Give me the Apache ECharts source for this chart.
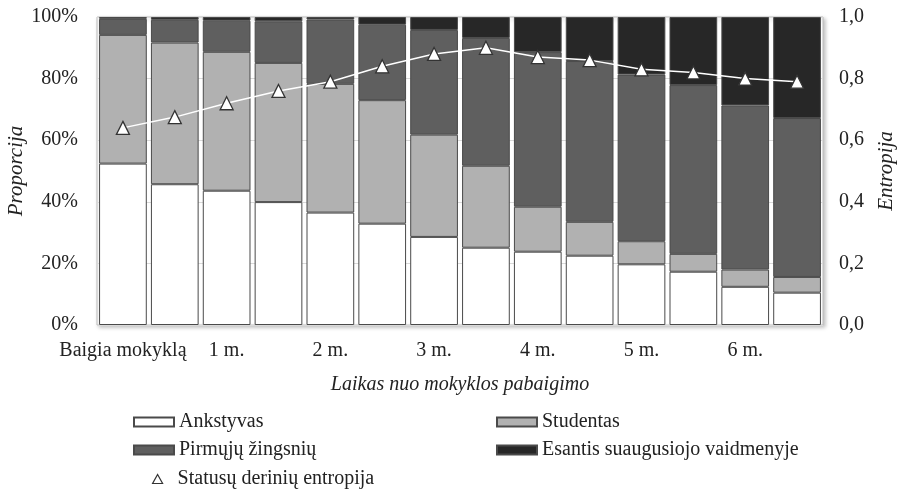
<!DOCTYPE html>
<html><head><meta charset="utf-8">
<script src="https://cdn.jsdelivr.net/npm/echarts@6/dist/echarts.min.js"></script>
<style>html,body{margin:0;padding:0;background:#fff}#c{width:902px;height:491px}</style>
</head><body><div id="c"></div>
<script>
const categories = ['Baigia mokyklą','0,5 m.','1 m.','1,5 m.','2 m.','2,5 m.','3 m.','3,5 m.','4 m.','4,5 m.','5 m.','5,5 m.','6 m.','6,5 m.'];
const shownLabels = ['Baigia mokyklą','','1 m.','','2 m.','','3 m.','','4 m.','','5 m.','','6 m.',''];
const ankstyvas = [52.4,45.7,43.6,39.9,36.5,32.9,28.6,25.1,23.8,22.5,19.7,17.3,12.4,10.5];
const studentas = [41.8,46.0,45.1,45.2,41.8,40.1,33.2,26.6,14.6,11.0,7.5,5.8,5.6,5.1];
const pirmuju = [5.2,7.4,10.1,13.5,20.9,24.5,34.0,41.5,50.2,52.2,54.1,54.8,53.3,51.6];
const esantis = [0.6,0.9,1.2,1.4,0.8,2.5,4.2,6.8,11.4,14.3,18.7,22.1,28.7,32.8];
const entropija = [0.64,0.675,0.72,0.76,0.79,0.84,0.88,0.90,0.87,0.86,0.83,0.82,0.80,0.79];
const leftTicks = [0,20,40,60,80,100];
const rightTicks = [0,0.2,0.4,0.6,0.8,1.0];

const font = 'Liberation Serif';
const chart = echarts.init(document.getElementById('c'));
function bar(name, data, color){
  return {name, type:'bar', stack:'s', data, barCategoryGap:'8%',
    itemStyle:{color, borderColor:'#4a4a4a', borderWidth:1}};
}
const legendText = {fontFamily:font, fontSize:20, color:'#222'};
chart.setOption({
  animation:false,
  grid:{left:97, right:79, top:17, bottom:166, outerBoundsMode:'none', containLabel:false,
        show:true, borderColor:'#bdbdbd', borderWidth:1,
        backgroundColor:'#fff', shadowColor:'rgba(0,0,0,0.25)', shadowBlur:4, shadowOffsetX:2, shadowOffsetY:2},
  legend:[
    {left:128, top:407, orient:'vertical', itemGap:8, itemWidth:40, itemHeight:9, icon:'rect', textStyle:legendText,
     data:['Ankstyvas','Pirmųjų žingsnių']},
    {left:491, top:407, orient:'vertical', itemGap:8, itemWidth:40, itemHeight:9, icon:'rect', textStyle:legendText,
     data:['Studentas','Esantis suaugusiojo vaidmenyje']},
    {left:147, top:464, itemWidth:10, itemHeight:9, textStyle:Object.assign({padding:[0,0,0,10]}, legendText),
     data:[{name:'Statusų derinių entropija', icon:'triangle', itemStyle:{color:'#fff', borderColor:'#333', borderWidth:1.2}}]}
  ],
  xAxis:{type:'category', data:categories,
    axisLine:{show:false}, axisTick:{show:false},
    axisLabel:{interval:0, margin:16, fontFamily:font, fontSize:20, color:'#222',
      formatter:(v,i)=>shownLabels[i]},
    name:'Laikas nuo mokyklos pabaigimo', nameLocation:'middle', nameGap:50,
    nameTextStyle:{fontFamily:font, fontStyle:'italic', fontSize:20, color:'#222'}},
  yAxis:[
    {type:'value', min:0, max:100, interval:20,
     axisLine:{show:false}, axisTick:{show:false},
     axisLabel:{fontFamily:font, fontSize:20, color:'#222', margin:19, formatter:v=>v+'%'},
     splitLine:{lineStyle:{color:'#d9d9d9'}},
     name:'Proporcija', nameLocation:'middle', nameGap:70, nameRotate:90, nameMoveOverlap:false,
     nameTextStyle:{fontFamily:font, fontStyle:'italic', fontSize:21, color:'#222'}},
    {type:'value', min:0, max:1, interval:0.2,
     axisLine:{show:false}, axisTick:{show:false}, splitLine:{show:false},
     axisLabel:{fontFamily:font, fontSize:20, color:'#222', margin:16, formatter:v=>v.toFixed(1).replace('.',',')},
     name:'Entropija', nameLocation:'middle', nameGap:53, nameRotate:90,
     nameTextStyle:{fontFamily:font, fontStyle:'italic', fontSize:21, color:'#222'}}
  ],
  series:[
    bar('Ankstyvas', ankstyvas, '#ffffff'),
    bar('Studentas', studentas, '#b1b1b1'),
    bar('Pirmųjų žingsnių', pirmuju, '#5f5f5f'),
    bar('Esantis suaugusiojo vaidmenyje', esantis, '#272727'),
    {name:'Statusų derinių entropija', type:'line', yAxisIndex:1, data:entropija,
     symbol:'triangle', symbolSize:13, z:5,
     lineStyle:{color:'#ffffff', width:1.5},
     itemStyle:{color:'#ffffff', borderColor:'#333', borderWidth:1.3}}
  ]
});
</script></body></html>
